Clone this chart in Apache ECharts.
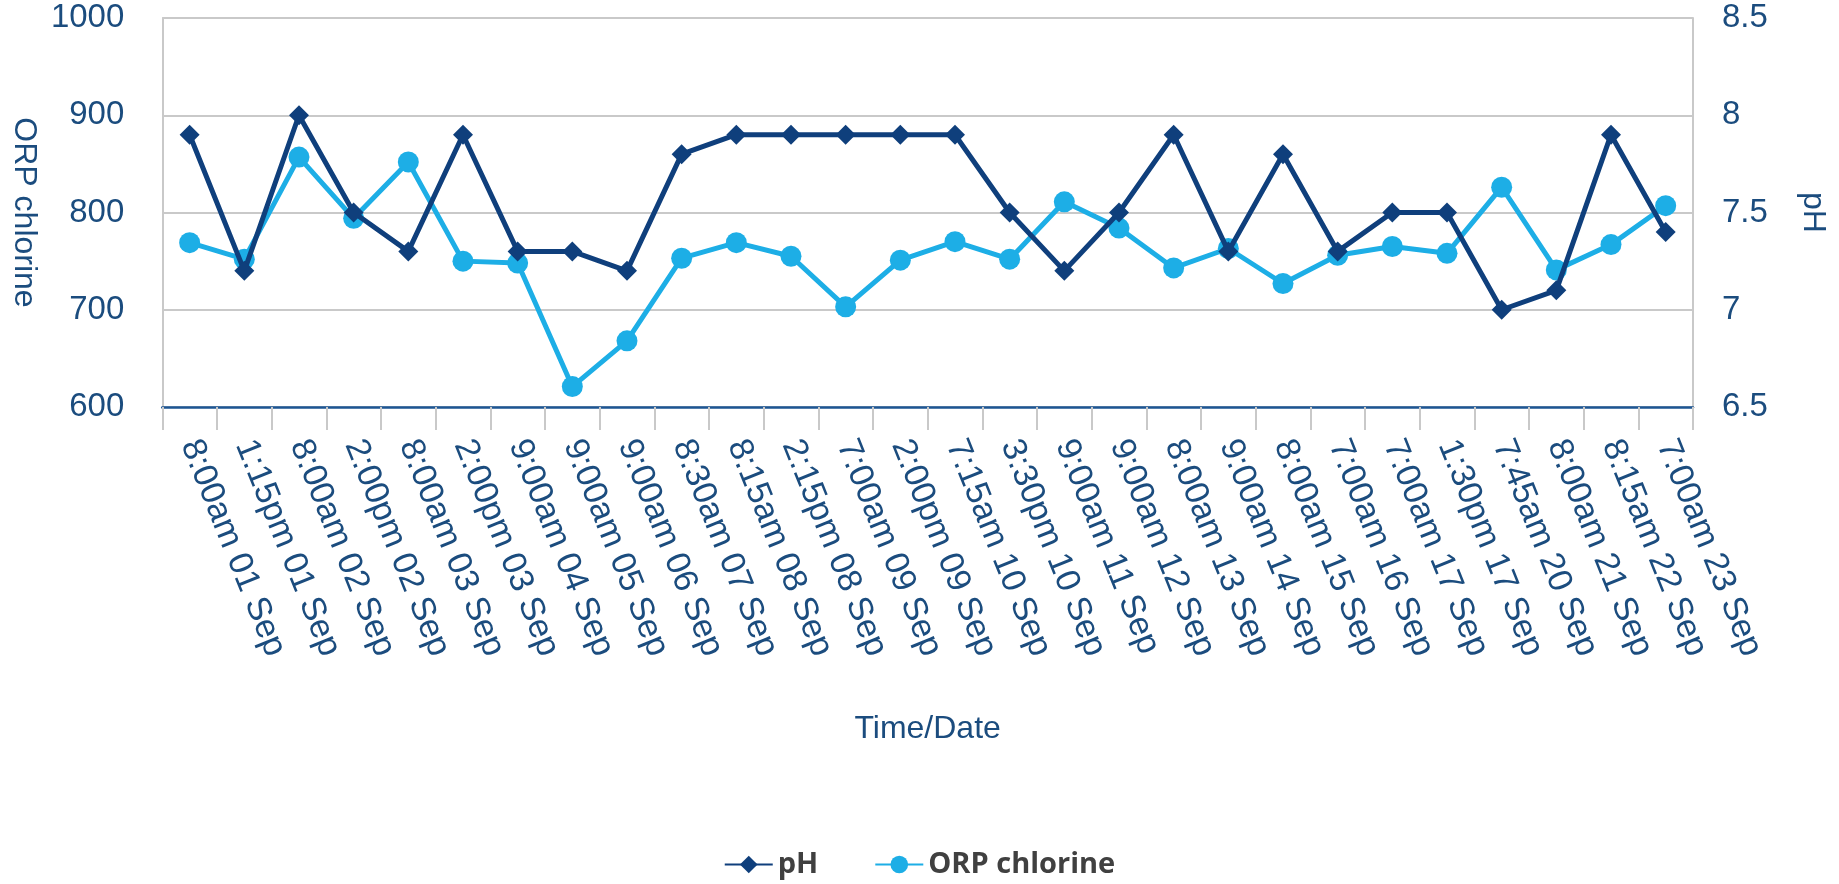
<!DOCTYPE html>
<html>
<head>
<meta charset="utf-8">
<title>pH and ORP chlorine</title>
<script src="https://cdn.jsdelivr.net/npm/echarts@6/dist/echarts.min.js"></script>
<style>
  html, body { margin: 0; padding: 0; background: #ffffff; }
  #chart { width: 1839px; height: 884px; }
</style>
</head>
<body>
<div id="chart"></div>
<script>
// time of each reading
var categories = [
  '8:00am 01 Sep', '1:15pm 01 Sep', '8:00am 02 Sep', '2:00pm 02 Sep',
  '8:00am 03 Sep', '2:00pm 03 Sep', '9:00am 04 Sep', '9:00am 05 Sep',
  '9:00am 06 Sep', '8:30am 07 Sep', '8:15am 08 Sep', '2:15pm 08 Sep',
  '7:00am 09 Sep', '2:00pm 09 Sep', '7:15am 10 Sep', '3:30pm 10 Sep',
  '9:00am 11 Sep', '9:00am 12 Sep', '8:00am 13 Sep', '9:00am 14 Sep',
  '8:00am 15 Sep', '7:00am 16 Sep', '7:00am 17 Sep', '1:30pm 17 Sep',
  '7:45am 20 Sep', '8:00am 21 Sep', '8:15am 22 Sep', '7:00am 23 Sep'
];

// pH readings (right axis)
var phValues = [
  7.9, 7.2, 8.0, 7.5, 7.3, 7.9, 7.3, 7.3, 7.2, 7.8,
  7.9, 7.9, 7.9, 7.9, 7.9, 7.5, 7.2, 7.5, 7.9, 7.3,
  7.8, 7.3, 7.5, 7.5, 7.0, 7.1, 7.9, 7.4
];

// ORP chlorine readings (left axis)
var orpValues = [
  769, 752, 857, 794, 852, 750, 748, 621, 668, 753,
  769, 755, 703, 751, 770, 752, 811, 784, 743, 763,
  727, 756, 765, 758, 826, 741, 767, 807
];

var orpTicks = { min: 600, max: 1000, interval: 100 };
var phTicks = { min: 6.5, max: 8.5, interval: 0.5 };

var axisText = '#1b4c7e';
var gridGray = '#c9c9c9';
var phColor = '#0f3f7c';
var orpColor = '#1daee6';

var chart = echarts.init(document.getElementById('chart'), null, { renderer: 'canvas' });

var option = {
  backgroundColor: '#ffffff',
  animation: false,
  textStyle: { fontFamily: 'Liberation Sans, Arial, sans-serif' },
  grid: {
    left: 157,
    right: 146,
    top: 18,
    bottom: 477,
    containLabel: false
  },
  legend: {
    bottom: 0,
    left: 'center',
    data: ['pH', 'ORP chlorine'],
    itemWidth: 48,
    itemHeight: 22,
    itemGap: 56,
    textStyle: {
      fontFamily: 'Open Sans, sans-serif',
      fontWeight: 'bold',
      fontSize: 29,
      color: '#404040'
    }
  },
  xAxis: {
    type: 'category',
    data: categories,
    boundaryGap: true,
    name: 'Time/Date',
    nameLocation: 'middle',
    nameGap: 306,
    nameTextStyle: { fontSize: 32, color: axisText },
    axisLine: { lineStyle: { color: '#1d5593', width: 2.5 } },
    axisTick: { show: true, length: 23, lineStyle: { color: gridGray, width: 2 } },
    axisLabel: {
      interval: 0,
      rotate: -68,
      margin: 34,
      fontSize: 34,
      color: axisText
    }
  },
  yAxis: [
    {
      type: 'value',
      position: 'left',
      min: orpTicks.min,
      max: orpTicks.max,
      interval: orpTicks.interval,
      name: 'ORP chlorine',
      nameLocation: 'middle',
      nameRotate: -90,
      nameGap: 118,
      nameTextStyle: { fontSize: 32, color: axisText },
      axisLine: { show: true, lineStyle: { color: gridGray, width: 2 } },
      axisTick: { show: false },
      axisLabel: {
        fontSize: 33,
        color: axisText,
        margin: 38,
        formatter: function (v) { return String(v); }
      },
      splitLine: { show: true, lineStyle: { color: gridGray, width: 2 } }
    },
    {
      type: 'value',
      position: 'right',
      min: phTicks.min,
      max: phTicks.max,
      interval: phTicks.interval,
      name: 'pH',
      nameLocation: 'middle',
      nameRotate: -90,
      nameGap: 104,
      nameTextStyle: { fontSize: 32, color: axisText },
      axisLine: { show: true, lineStyle: { color: gridGray, width: 2 } },
      axisTick: { show: false },
      axisLabel: { fontSize: 33, color: axisText, margin: 29 },
      splitLine: { show: false }
    }
  ],
  series: [
    {
      name: 'ORP chlorine',
      type: 'line',
      yAxisIndex: 0,
      data: orpValues,
      symbol: 'circle',
      symbolSize: 21,
      itemStyle: { color: orpColor },
      lineStyle: { color: orpColor, width: 5 },
      z: 2
    },
    {
      name: 'pH',
      type: 'line',
      yAxisIndex: 1,
      data: phValues,
      symbol: 'diamond',
      symbolSize: 20,
      itemStyle: { color: phColor },
      lineStyle: { color: phColor, width: 5 },
      z: 3
    }
  ]
};

chart.setOption(option);
</script>
</body>
</html>
